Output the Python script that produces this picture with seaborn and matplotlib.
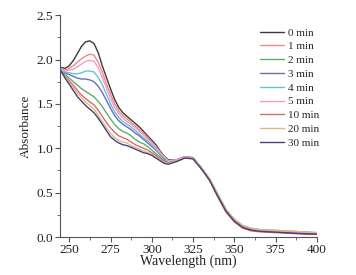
import numpy as np
import pandas as pd
import matplotlib
matplotlib.use("Agg")
import matplotlib.pyplot as plt
from matplotlib.ticker import AutoMinorLocator, MultipleLocator
import seaborn as sns

wavelength = [245, 247.5, 250, 252.5, 255, 257.5, 260, 262.5, 265, 267.5, 270, 272.5, 275,
              277.5, 280, 282.5, 285, 287.5, 290, 292.5, 295, 297.5, 300, 302.5, 305, 307.5, 310,
              315, 320, 325, 330, 335, 340, 345, 350, 355, 360, 365, 370, 375, 380,
              385, 390, 395, 400]

labels = ["0 min", "1 min", "2 min", "3 min", "4 min", "5 min", "10 min", "20 min", "30 min"]
colors = ["#3a3a3a", "#ec8a8a", "#5fae6e", "#6a6fb5", "#63c4dc", "#f59ac8", "#d96a6a", "#d8b98e", "#4a3f7a"]

a_0 = [1.91, 1.90, 1.93, 1.99, 2.07, 2.15, 2.20, 2.21, 2.18, 2.08, 1.93, 1.80, 1.67, 1.55,
       1.46, 1.40, 1.36, 1.32, 1.28, 1.24, 1.19, 1.14, 1.09, 1.04, 0.97, 0.91, 0.87,
       0.87, 0.905, 0.895, 0.78, 0.65, 0.47, 0.30, 0.19, 0.12, 0.09, 0.075, 0.07, 0.065, 0.06,
       0.055, 0.05, 0.045, 0.04]
a_1 = [1.89, 1.88, 1.90, 1.93, 1.97, 2.01, 2.04, 2.06, 2.05, 1.97, 1.86, 1.73, 1.61, 1.50,
       1.42, 1.37, 1.33, 1.29, 1.25, 1.21, 1.17, 1.12, 1.07, 1.02, 0.96, 0.90, 0.86,
       0.87, 0.905, 0.89, 0.78, 0.65, 0.47, 0.30, 0.19, 0.12, 0.09, 0.075, 0.07, 0.065, 0.06,
       0.055, 0.05, 0.045, 0.04]
a_2 = [1.87, 1.83, 1.79, 1.75, 1.71, 1.67, 1.64, 1.61, 1.58, 1.53, 1.47, 1.40, 1.33, 1.27,
       1.22, 1.19, 1.17, 1.14, 1.10, 1.07, 1.05, 1.02, 0.98, 0.94, 0.90, 0.86, 0.84,
       0.86, 0.90, 0.89, 0.78, 0.66, 0.48, 0.31, 0.20, 0.13, 0.10, 0.085, 0.08, 0.075, 0.07,
       0.065, 0.06, 0.055, 0.05]
a_3 = [1.88, 1.85, 1.83, 1.81, 1.79, 1.78, 1.78, 1.77, 1.75, 1.70, 1.63, 1.54, 1.45, 1.37,
       1.31, 1.27, 1.24, 1.21, 1.17, 1.14, 1.10, 1.06, 1.02, 0.98, 0.93, 0.88, 0.85,
       0.865, 0.90, 0.89, 0.78, 0.65, 0.47, 0.30, 0.19, 0.12, 0.09, 0.075, 0.07, 0.065, 0.06,
       0.055, 0.05, 0.045, 0.04]
a_4 = [1.88, 1.86, 1.85, 1.84, 1.84, 1.85, 1.87, 1.87, 1.86, 1.80, 1.72, 1.61, 1.50, 1.41,
       1.35, 1.30, 1.27, 1.24, 1.20, 1.16, 1.12, 1.08, 1.04, 0.99, 0.94, 0.89, 0.85,
       0.865, 0.90, 0.89, 0.78, 0.65, 0.47, 0.30, 0.19, 0.12, 0.09, 0.075, 0.07, 0.065, 0.06,
       0.055, 0.05, 0.045, 0.04]
a_5 = [1.89, 1.87, 1.88, 1.89, 1.92, 1.95, 1.98, 1.99, 1.98, 1.91, 1.80, 1.68, 1.56, 1.46,
       1.39, 1.34, 1.30, 1.27, 1.23, 1.19, 1.15, 1.10, 1.06, 1.01, 0.95, 0.90, 0.86,
       0.87, 0.905, 0.89, 0.78, 0.65, 0.47, 0.30, 0.19, 0.12, 0.09, 0.075, 0.07, 0.065, 0.06,
       0.055, 0.05, 0.045, 0.04]
a_10 = [1.86, 1.81, 1.76, 1.71, 1.65, 1.60, 1.56, 1.52, 1.49, 1.43, 1.36, 1.29, 1.23, 1.18,
        1.14, 1.12, 1.10, 1.07, 1.04, 1.02, 1.00, 0.98, 0.95, 0.92, 0.88, 0.85, 0.83,
        0.855, 0.895, 0.885, 0.77, 0.64, 0.45, 0.28, 0.17, 0.10, 0.07, 0.06, 0.055, 0.05, 0.045,
        0.04, 0.035, 0.03, 0.03]
a_20 = [1.86, 1.80, 1.74, 1.68, 1.62, 1.57, 1.52, 1.48, 1.44, 1.37, 1.30, 1.23, 1.17, 1.12,
        1.09, 1.07, 1.06, 1.03, 1.01, 0.99, 0.97, 0.95, 0.93, 0.90, 0.87, 0.84, 0.83,
        0.855, 0.895, 0.885, 0.78, 0.66, 0.48, 0.31, 0.20, 0.13, 0.10, 0.085, 0.08, 0.075, 0.07,
        0.065, 0.06, 0.055, 0.05]
a_30 = [1.87, 1.79, 1.72, 1.65, 1.58, 1.53, 1.48, 1.44, 1.40, 1.34, 1.27, 1.20, 1.13, 1.09,
        1.06, 1.04, 1.03, 1.01, 0.99, 0.97, 0.95, 0.94, 0.92, 0.89, 0.86, 0.83, 0.82,
        0.85, 0.89, 0.88, 0.77, 0.64, 0.46, 0.29, 0.18, 0.11, 0.08, 0.065, 0.06, 0.055, 0.05,
        0.045, 0.04, 0.035, 0.035]

series = [a_0, a_1, a_2, a_3, a_4, a_5, a_10, a_20, a_30]

rows = []
for lab, vals in zip(labels, series):
    for w, v in zip(wavelength, vals):
        rows.append({"Wavelength": w, "Absorbance": v, "Time": lab})
df = pd.DataFrame(rows)

sns.set_style("ticks")
plt.rcParams["font.family"] = ["Liberation Serif", "DejaVu Serif"]

fig = plt.figure(figsize=(3.56, 2.75), dpi=100)
ax = fig.add_axes([0.169, 0.138, 0.721, 0.807])

sns.lineplot(data=df, x="Wavelength", y="Absorbance", hue="Time", hue_order=labels,
             palette=colors, linewidth=1.0, ax=ax, legend=True)

ax.set_xlim(244.5, 400)
ax.set_ylim(0, 2.5)
ax.xaxis.set_major_locator(MultipleLocator(25))
ax.xaxis.set_minor_locator(AutoMinorLocator(2))
ax.yaxis.set_major_locator(MultipleLocator(0.5))
ax.yaxis.set_minor_locator(AutoMinorLocator(2))
ax.yaxis.set_major_formatter(matplotlib.ticker.FormatStrFormatter("%.1f"))
ax.tick_params(axis="both", which="major", direction="out", length=3.5, width=0.8,
               labelsize=9.5, colors="#555555", labelcolor="#222222", pad=1.5)
ax.tick_params(axis="both", which="minor", direction="out", length=2, width=0.6, colors="#555555")
for s in ["top", "right"]:
    ax.spines[s].set_visible(False)
for s in ["left", "bottom"]:
    ax.spines[s].set_color("#555555")
    ax.spines[s].set_linewidth(0.8)

ax.set_xlabel("Wavelength (nm)", fontsize=10, color="#222222", labelpad=-1)
ax.set_ylabel("Absorbance", fontsize=9.5, color="#222222", labelpad=3)

leg = ax.legend(loc="upper left", bbox_to_anchor=(0.718, 0.915), bbox_transform=fig.transFigure,
                frameon=False, fontsize=8, handlelength=2.2, handletextpad=0.35,
                labelspacing=0.36, borderaxespad=0)
for line in leg.get_lines():
    line.set_linewidth(1.0)

fig.savefig("out.png", dpi=100)
